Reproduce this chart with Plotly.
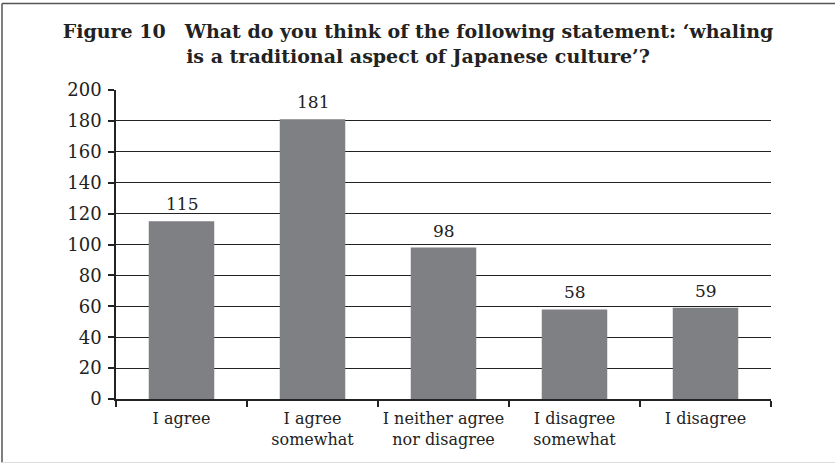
import plotly.graph_objects as go

categories = ["I agree", "I agree<br>somewhat", "I neither agree<br>nor disagree",
              "I disagree<br>somewhat", "I disagree"]
counts = [115, 181, 98, 58, 59]
y_ticks = [0, 20, 40, 60, 80, 100, 120, 140, 160, 180, 200]

title_text = ("<b>Figure 10\u2003What do you think of the following statement: \u2018whaling<br>"
              "is a traditional aspect of Japanese culture\u2019?</b>")

SERIF = "DejaVu Serif"
W, H = 835, 464
L, R, T, B = 116, 64, 90, 65
pw, ph = W - L - R, H - T - B

fig = go.Figure()
fig.add_trace(go.Bar(
    x=categories, y=counts, width=0.5,
    marker=dict(color="#7f8084", line=dict(width=0)),
    hoverinfo="x+y",
))

for c, v in zip(categories, counts):
    fig.add_annotation(x=c, y=v, text=str(v), showarrow=False,
                       yanchor="bottom", yshift=5,
                       font=dict(family=SERIF, size=17, color="#222"))

# frame around the figure
def px_x(p):
    return (p - L) / pw

def px_y(p):
    return (H - B - p) / ph

fig.add_shape(type="line", xref="paper", yref="paper",
              x0=px_x(2), x1=px_x(840), y0=px_y(3.5), y1=px_y(3.5),
              line=dict(color="#555", width=1.5))
fig.add_shape(type="line", xref="paper", yref="paper",
              x0=px_x(2), x1=px_x(2), y0=px_y(3.5), y1=px_y(462.5),
              line=dict(color="#555", width=1.5))
fig.add_shape(type="line", xref="paper", yref="paper",
              x0=px_x(2), x1=px_x(840), y0=px_y(462.5), y1=px_y(462.5),
              line=dict(color="#ddd", width=1))

fig.update_layout(
    width=W, height=H,
    margin=dict(l=L, r=R, t=T, b=B),
    paper_bgcolor="white", plot_bgcolor="white",
    showlegend=False,
    title=dict(text=title_text, x=418 / W, xref="container", xanchor="center",
               y=1 - 38 / H, yref="container", yanchor="middle",
               font=dict(family=SERIF, size=19, color="#222")),
    font=dict(family=SERIF, color="#222"),
)

fig.update_xaxes(
    type="category", tickson="boundaries", ticks="outside", ticklen=6,
    tickcolor="#222", tickwidth=1.5, tickangle=0, automargin=False,
    ticklabelstandoff=4,
    showline=True, linecolor="#222", linewidth=1.5,
    showgrid=False, tickfont=dict(family=SERIF, size=16, color="#222"),
)
fig.update_yaxes(
    range=[0, 200], tickvals=y_ticks, ticks="outside", ticklen=6,
    tickcolor="#222", tickwidth=1.5, automargin=False,
    ticklabelstandoff=3,
    showline=True, linecolor="#222", linewidth=1.5,
    showgrid=True, gridcolor="#222", gridwidth=1.2, zeroline=False,
    tickfont=dict(family=SERIF, size=18, color="#222"),
)

fig.write_html("out.html")
